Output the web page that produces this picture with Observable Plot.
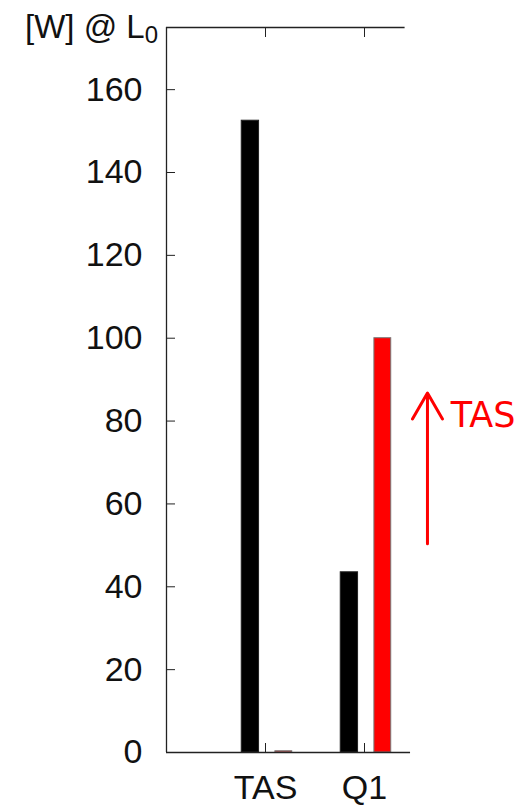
<!DOCTYPE html>
<html>
<head>
<meta charset="utf-8">
<script src="https://cdn.jsdelivr.net/npm/d3@7"></script>
<script src="https://cdn.jsdelivr.net/npm/@observablehq/plot@0.6"></script>
<style>
  html, body { margin: 0; padding: 0; background: #fff; }
  #chart svg { display: block; }
</style>
</head>
<body>
<div id="chart"></div>
<script>
// ---- data ----
const categories = ["TAS", "Q1"];
const categoryPos = [1, 2];
const blackValues = [152.5, 43.5];
const redValues = [0.3, 100];
const yTicks = [0, 20, 40, 60, 80, 100, 120, 140, 160];
const yMax = 175;

// annotation (data coordinates)
const arrowX = [2.636];
const arrowFrom = [50.4];
const arrowTo = [86.8];
const noteText = ["TAS"];
const noteX = [2.87];
const noteY = [81.2];

// ---- layout ----
const W = 529, H = 805;
const slot = { black: [-0.24, -0.065], red: [0.10, 0.27] };
const frameTopRight = 2.41, frameBottomRight = 2.465;

const bars = [];
categories.forEach((c, i) => {
  bars.push({ cat: c, pos: categoryPos[i], series: "black", value: blackValues[i] });
  bars.push({ cat: c, pos: categoryPos[i], series: "red", value: redValues[i] });
});
const notes = noteText.map((t, i) => ({ t, x: noteX[i], y: noteY[i] }));
const arrows = arrowX.map((x, i) => ({ x, y1: arrowFrom[i], y2: arrowTo[i] }));

const svg = Plot.plot({
  width: W,
  height: H,
  marginLeft: 166,
  marginRight: 0,
  marginTop: 27,
  marginBottom: 53,
  style: { fontFamily: "'Liberation Sans', Arial, sans-serif", fontSize: "34px", background: "#fff", color: "#000" },
  x: { type: "linear", domain: [0, (W - 166) / 99] },
  y: { domain: [0, yMax] },
  marks: [
    Plot.rectY(bars.filter(d => d.series === "black"), {
      x1: d => d.pos + slot.black[0], x2: d => d.pos + slot.black[1],
      y1: 0, y2: "value", fill: "#000", stroke: "#222", strokeWidth: 1
    }),
    Plot.rectY(bars.filter(d => d.series === "red"), {
      x1: d => d.pos + slot.red[0], x2: d => d.pos + slot.red[1],
      y1: 0, y2: "value", fill: "#ff0000", stroke: "#777", strokeWidth: 1
    }),
    // frame
    Plot.ruleX([0], { y1: 0, y2: yMax, stroke: "#222", strokeWidth: 1.3 }),
    Plot.ruleY([0], { x1: 0, x2: frameBottomRight, stroke: "#222", strokeWidth: 1.3 }),
    Plot.ruleY([yMax], { x1: 0, x2: frameTopRight, stroke: "#222", strokeWidth: 1.3 }),
    // y axis: inward ticks + labels
    Plot.axisY({ ticks: yTicks, tickSize: -9, text: null, label: null, stroke: "#222" }),
    Plot.axisY({ ticks: yTicks, tickSize: 0, tickPadding: 24, label: null, fill: "#111" }),
    // x axis: inward ticks bottom & top + labels
    Plot.axisX({ ticks: categoryPos, tickSize: -9, text: null, label: null, anchor: "bottom", stroke: "#222" }),
    Plot.axisX({ ticks: categoryPos, tickSize: -9, text: null, label: null, anchor: "top", stroke: "#222" }),
    Plot.axisX({ ticks: categoryPos, tickSize: 0, tickPadding: 22, anchor: "bottom", label: null,
      tickFormat: (d) => categories[categoryPos.indexOf(d)], fill: "#111" }),
    // annotation
    Plot.arrow(arrows, { x1: "x", x2: "x", y1: "y1", y2: "y2", stroke: "#ff0000", strokeWidth: 3, headLength: 15, headAngle: 60 }),
    Plot.text(notes, { x: "x", y: "y", text: "t", textAnchor: "start", lineAnchor: "middle",
      fill: "#ff0000", fontSize: 35, fontFamily: "'DejaVu Sans', Verdana, sans-serif" })
  ]
});

// y-axis unit label with subscript
const s = d3.select(svg);
const lab = s.append("text")
  .attr("x", 25).attr("y", 38)
  .attr("text-anchor", "start")
  .attr("font-family", "'Liberation Sans', Arial, sans-serif")
  .attr("font-size", 33)
  .attr("fill", "#111");
lab.append("tspan").text("[W] @ L");
lab.append("tspan").attr("font-size", 24).attr("dy", 5).text("0");

document.getElementById("chart").appendChild(svg);
</script>
</body>
</html>
